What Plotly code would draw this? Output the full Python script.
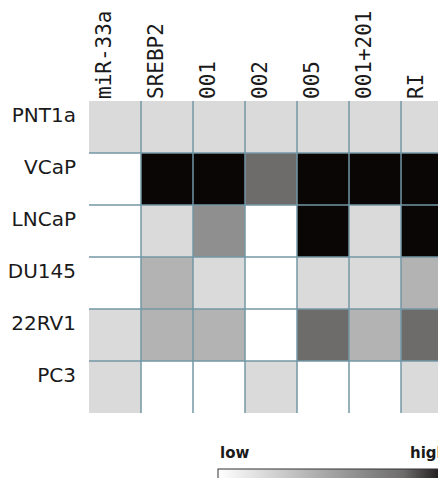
import plotly.graph_objects as go

columns = ["miR-33a", "SREBP2", "001", "002", "005", "001+201", "RI"]
rows = ["PNT1a", "VCaP", "LNCaP", "DU145", "22RV1", "PC3"]
# expression level (0 = low/white ... 5 = high/black)
levels = [
    [1, 1, 1, 1, 1, 1, 1],
    [0, 5, 5, 4, 5, 5, 5],
    [0, 1, 3, 0, 5, 1, 5],
    [0, 2, 1, 0, 1, 1, 2],
    [1, 2, 2, 0, 4, 2, 4],
    [1, 0, 0, 1, 0, 0, 1],
]

colorscale = [
    [0.0, "#ffffff"],
    [0.2, "#dadada"],
    [0.4, "#b3b3b3"],
    [0.6, "#8f8f8f"],
    [0.8, "#6e6b6b"],
    [1.0, "#0a0606"],
]

nx, ny = len(columns), len(rows)

fig = go.Figure(go.Heatmap(
    z=levels,
    x=list(range(nx)),
    y=list(range(ny)),
    zmin=0, zmax=5,
    colorscale=colorscale,
    hoverinfo="skip",
    colorbar=dict(
        orientation="h",
        x=0.361, xanchor="left", xpad=0,
        y=-0.178, yanchor="top", ypad=0,
        lenmode="pixels", len=232,
        thickness=26,
        outlinecolor="#333333", outlinewidth=1,
        showticklabels=False, ticks="",
    ),
))

line_color = "#7397a6"
for i in range(nx - 1):
    fig.add_shape(type="line", x0=i + 0.5, x1=i + 0.5, y0=-0.5, y1=ny - 0.5,
                  line=dict(color=line_color, width=1.5), layer="above")
for j in range(ny - 1):
    fig.add_shape(type="line", x0=-0.5, x1=nx - 0.5, y0=j + 0.5, y1=j + 0.5,
                  line=dict(color=line_color, width=1.5), layer="above")

fig.add_annotation(text="<b>low</b>", xref="paper", yref="paper", x=0.361, y=-0.128,
                   xanchor="left", yanchor="middle", showarrow=False,
                   font=dict(family="DejaVu Sans", size=15, color="#1a1a1a"))
fig.add_annotation(text="<b>high</b>", xref="paper", yref="paper", x=0.893, y=-0.128,
                   xanchor="left", yanchor="middle", showarrow=False,
                   font=dict(family="DejaVu Sans", size=15, color="#1a1a1a"))

fig.update_layout(
    width=438, height=470,
    margin=dict(l=81, r=0, t=93, b=65, autoexpand=False),
    paper_bgcolor="white", plot_bgcolor="white",
    showlegend=False,
    xaxis=dict(
        side="top", range=[-0.5, 6.365], tickvals=list(range(nx)), ticktext=columns,
        tickangle=-90, showgrid=False, zeroline=False, showline=False, ticks="",
        tickfont=dict(family="DejaVu Sans Mono", size=21, color="#1a1a1a"),
        ticklabelshift=-11, ticklabelstandoff=1, fixedrange=True, automargin=False,
    ),
    yaxis=dict(
        range=[ny - 0.5, -0.5], tickvals=list(range(ny)), ticktext=rows,
        showgrid=False, zeroline=False, showline=False, ticks="",
        tickfont=dict(family="DejaVu Sans", size=20, color="#1a1a1a"),
        ticklabelstandoff=12, ticklabelshift=12, fixedrange=True, automargin=False,
    ),
)

fig.write_html("out.html")
